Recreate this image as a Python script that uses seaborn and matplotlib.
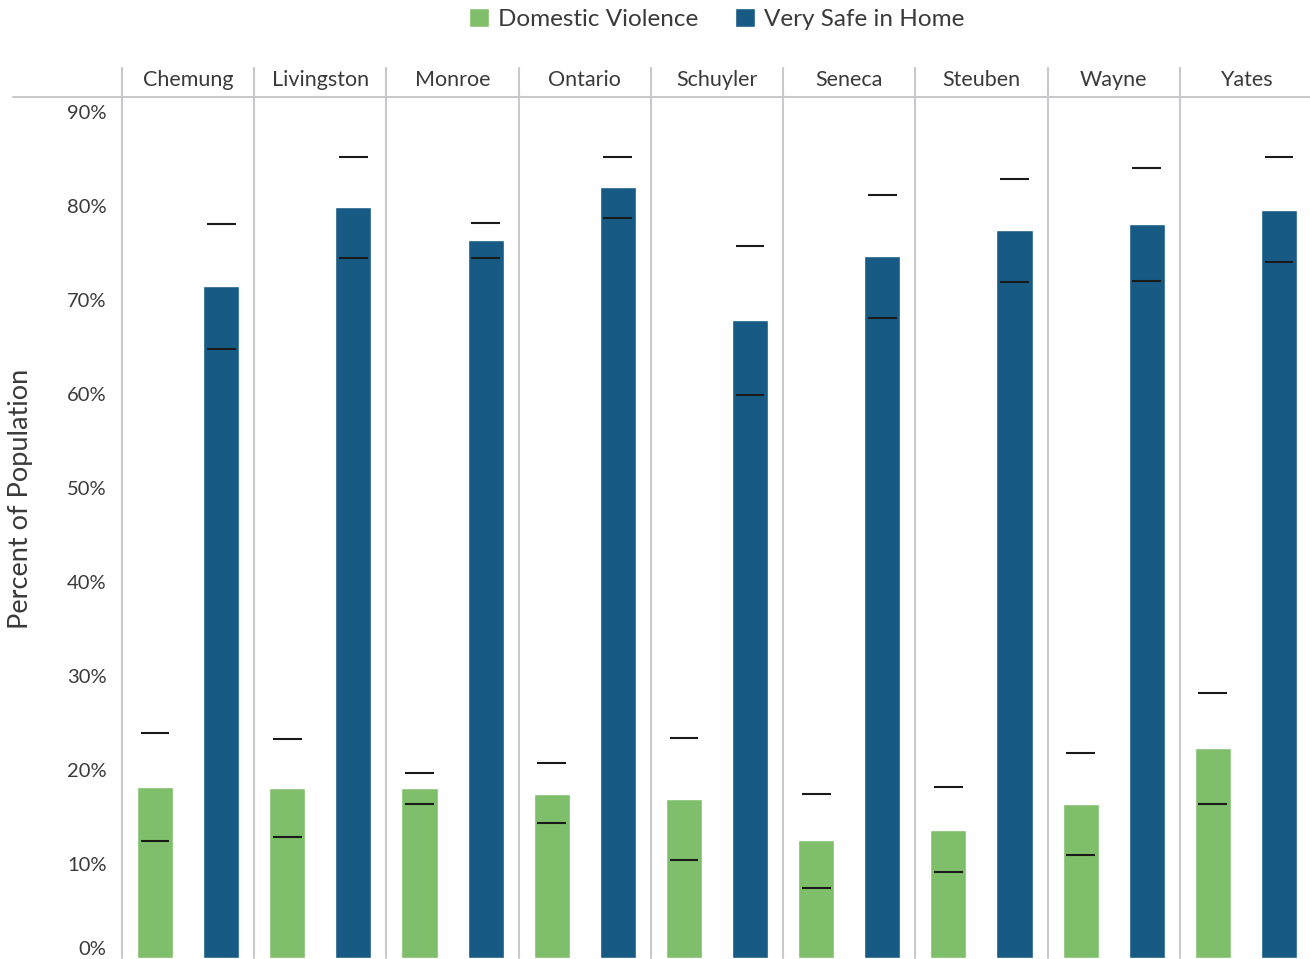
import matplotlib
matplotlib.use("Agg")
import matplotlib.pyplot as plt
import seaborn as sns
import pandas as pd

counties = ["Chemung", "Livingston", "Monroe", "Ontario", "Schuyler",
            "Seneca", "Steuben", "Wayne", "Yates"]
measures = ["Domestic Violence", "Very Safe in Home"]

dv_value = [18.2, 18.1, 18.1, 17.4, 16.9, 12.6, 13.6, 16.4, 22.3]
dv_low = [12.4, 12.9, 16.4, 14.4, 10.4, 7.4, 9.1, 11.0, 16.4]
dv_high = [23.9, 23.3, 19.7, 20.7, 23.4, 17.4, 18.2, 21.8, 28.2]

vs_value = [71.5, 79.9, 76.4, 82.0, 67.9, 74.7, 77.4, 78.1, 79.6]
vs_low = [64.8, 74.5, 74.5, 78.7, 59.9, 68.1, 71.9, 72.0, 74.0]
vs_high = [78.1, 85.2, 78.2, 85.2, 75.7, 81.2, 82.9, 84.0, 85.2]

yticks = [0, 10, 20, 30, 40, 50, 60, 70, 80, 90]
ytick_labels = [f"{t}%" for t in yticks]

green = "#7FBF6B"
blue = "#175B85"
sep_color = "#C9C9CD"
text_color = "#3a3a3a"

df = pd.DataFrame({
    "County": counties * 2,
    "Measure": [measures[0]] * len(counties) + [measures[1]] * len(counties),
    "Value": dv_value + vs_value,
})
lows = [dv_low, vs_low]
highs = [dv_high, vs_high]

sns.set_theme(style="white")
plt.rcParams["font.family"] = ["Lato", "DejaVu Sans"]

W, H = 1310, 959
fig = plt.figure(figsize=(W / 100, H / 100), dpi=100)
ax_left, ax_right = 122, 1312
ax_top, ax_bottom = 97, 958
ax = fig.add_axes([ax_left / W, (H - ax_bottom) / H,
                   (ax_right - ax_left) / W, (ax_bottom - ax_top) / H])

sns.barplot(data=df, x="County", y="Value", hue="Measure",
            palette=[green, blue], width=1.0, gap=0.455,
            errorbar=None, ax=ax, saturation=1.0)

# error caps
for cont, lo, hi in zip(ax.containers, lows, highs):
    for bar, l, h in zip(cont, lo, hi):
        cx = bar.get_x() + bar.get_width() / 2
        w = bar.get_width()
        ax.hlines([l, h], cx - 0.4 * w, cx + 0.4 * w, color="#1a1a1a", lw=1.5, zorder=5)

handles, labels = ax.get_legend_handles_labels()
if ax.get_legend() is not None:
    ax.get_legend().remove()

ax.set_xlim(-0.5, len(counties) - 0.5)
ax.set_ylim(0, (ax_bottom - ax_top) / 9.4)
for s in ax.spines.values():
    s.set_visible(False)

# facet separators
ext = 1 + (ax_top - 68) / (ax_bottom - ax_top)
for i in range(len(counties) + 1):
    ax.axvline(i - 0.5, ymin=0, ymax=ext, color=sep_color, lw=1.5, clip_on=False, zorder=0)
# header line
ax.axhline(ax.get_ylim()[1], xmin=(13 - ax_left) / (ax_right - ax_left), xmax=1,
           color=sep_color, lw=1.5, clip_on=False)

# county headers
for i, c in enumerate(counties):
    ax.text(i, 1 + (ax_top - 80) / (ax_bottom - ax_top), c,
            transform=ax.get_xaxis_transform(), ha="center", va="center",
            fontsize=15.5, color=text_color)

ax.set_xticks([])
ax.set_xlabel("")
ax.set_yticks(yticks)
ax.set_yticklabels(ytick_labels, fontsize=14.5, color=text_color)
ax.tick_params(axis="y", length=0, pad=11)
ax.get_yticklabels()[0].set_va("bottom")
ax.set_ylabel("Percent of Population", fontsize=19.5, color=text_color)
ax.yaxis.set_label_coords((33 - ax_left) / (ax_right - ax_left),
                          (ax_bottom - 499) / (ax_bottom - ax_top))

fig.legend(handles, labels, loc="center",
           bbox_to_anchor=(((ax_left + ax_right) / 2) / W, 1 - 19 / H),
           ncol=2, frameon=False, handlelength=0.8, handleheight=0.8,
           handletextpad=0.4, columnspacing=1.5, labelcolor=text_color,
           prop={"size": 17.5})

fig.savefig("out.png", dpi=100)
